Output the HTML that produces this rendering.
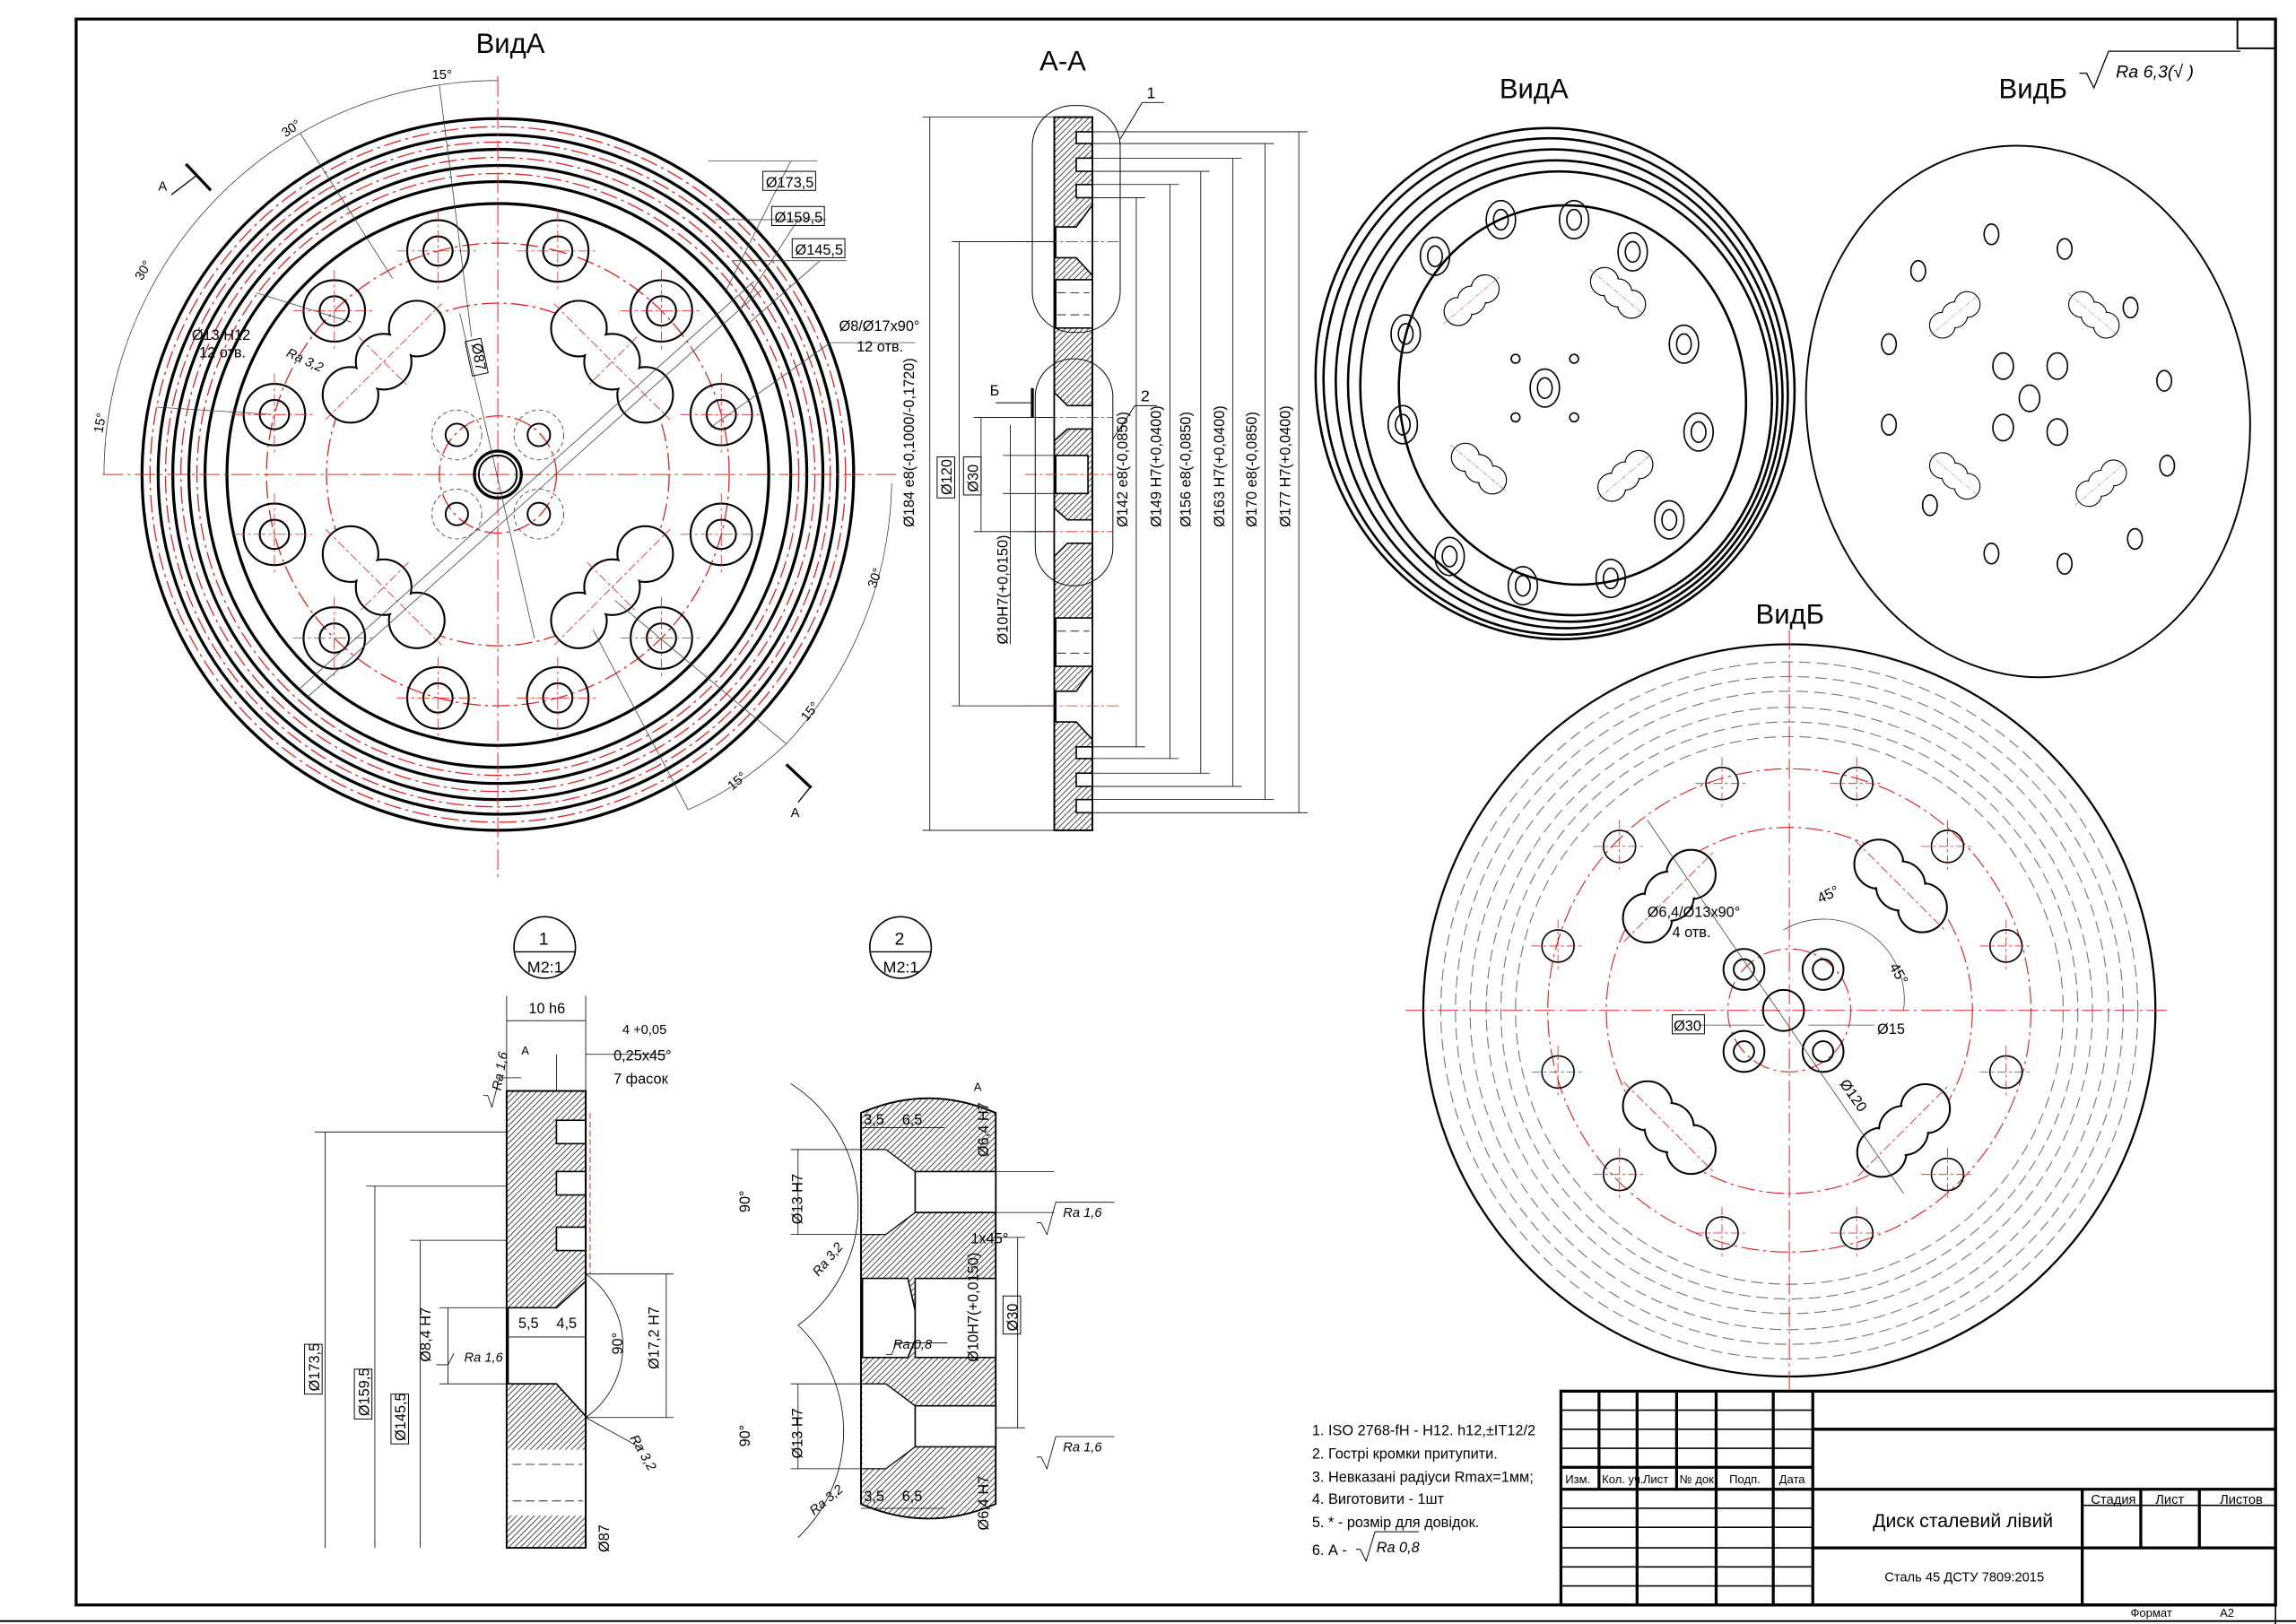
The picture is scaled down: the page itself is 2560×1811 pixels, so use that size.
<!DOCTYPE html>
<html><head><meta charset="utf-8">
<style>
html,body{margin:0;padding:0;background:#fff;}
svg{display:block;}
text{font-family:"Liberation Sans","Noto Sans CJK SC",sans-serif;fill:#000;}
</style></head>
<body>
<svg width="2560" height="1811" viewBox="0 0 1568 1109" preserveAspectRatio="none" xmlns="http://www.w3.org/2000/svg">
<defs>
<pattern id="hat" patternUnits="userSpaceOnUse" width="4" height="4">
<path d="M0 4 L4 0 M-1 1 L1 -1 M3 5 L5 3" stroke="#000" stroke-width="0.45"/>
</pattern>
<g id="hole">
<circle r="21" fill="none" stroke="#000" stroke-width="1.3"/>
<circle r="10" fill="none" stroke="#000" stroke-width="1.3"/>
<line x1="-28" y1="0" x2="28" y2="0" stroke="#d22" stroke-width="0.5" stroke-dasharray="8 2 2 2"/>
<line x1="0" y1="-28" x2="0" y2="28" stroke="#d22" stroke-width="0.5" stroke-dasharray="8 2 2 2"/>
</g>
<g id="clover">
<circle cx="-32" cy="0" r="19" fill="#fff" stroke="#000" stroke-width="1.3"/>
<circle cx="32" cy="0" r="19" fill="#fff" stroke="#000" stroke-width="1.3"/>
<circle cx="0" cy="0" r="19" fill="#fff" stroke="#000" stroke-width="1.3"/>
<circle cx="-32" cy="0" r="18" fill="#fff"/>
<circle cx="32" cy="0" r="18" fill="#fff"/>
<line x1="-56" y1="0" x2="56" y2="0" stroke="#d22" stroke-width="0.5" stroke-dasharray="6 2 2 2"/>
<line x1="0" y1="-24" x2="0" y2="24" stroke="#d22" stroke-width="0.5" stroke-dasharray="6 2 2 2"/>
</g>
<g id="clover2">
<circle cx="-20" cy="0" r="16" fill="#fff" stroke="#000" stroke-width="1.2"/>
<circle cx="20" cy="0" r="16" fill="#fff" stroke="#000" stroke-width="1.2"/>
<circle cx="0" cy="0" r="16" fill="#fff" stroke="#000" stroke-width="1.2"/>
<circle cx="-20" cy="0" r="15" fill="#fff"/>
<circle cx="20" cy="0" r="15" fill="#fff"/>
<line x1="-42" y1="0" x2="42" y2="0" stroke="#d22" stroke-width="0.5" stroke-dasharray="6 2 2 2"/>
</g>
<g id="shole">
<circle r="11" fill="none" stroke="#000" stroke-width="1"/>
<line x1="-18" y1="0" x2="18" y2="0" stroke="#d22" stroke-width="0.5" stroke-dasharray="6 2 2 2"/>
<line x1="0" y1="-18" x2="0" y2="18" stroke="#d22" stroke-width="0.5" stroke-dasharray="6 2 2 2"/>
</g>
<g id="ehole">
<ellipse rx="10" ry="13" fill="none" stroke="#000" stroke-width="1"/>
<ellipse rx="5" ry="7" fill="none" stroke="#000" stroke-width="1"/>
</g>
</defs>

<rect width="1568" height="1109" fill="#fff"/>
<!-- frame -->
<rect x="52" y="13" width="1502" height="1083" fill="none" stroke="#000" stroke-width="2"/>
<rect x="1528" y="13" width="26" height="20" fill="none" stroke="#000" stroke-width="1.2"/>
<line x1="0" y1="1107" x2="1568" y2="1107" stroke="#000" stroke-width="1.2"/>
<line x1="1554" y1="1096" x2="1554" y2="1109" stroke="#000" stroke-width="1"/>
<text x="1455" y="1104" font-size="8">Формат</text>
<text x="1516" y="1104" font-size="8">А2</text>

<!-- Vid A main -->
<text x="325" y="36" font-size="19">ВидА</text>
<g fill="none" stroke="#000" stroke-width="2">
<circle cx="340" cy="324" r="243"/>
<circle cx="340" cy="324" r="232"/>
<circle cx="340" cy="324" r="222"/>
<circle cx="340" cy="324" r="211"/>
<circle cx="340" cy="324" r="200"/>
<circle cx="340" cy="324" r="185"/>
</g>
<g fill="none" stroke="#d22" stroke-width="0.8" stroke-dasharray="12 3 2 3">
<circle cx="340" cy="324" r="237.5"/>
<circle cx="340" cy="324" r="227"/>
<circle cx="340" cy="324" r="216.5"/>
<circle cx="340" cy="324" r="205.5"/>
<circle cx="340" cy="324" r="158"/>
<circle cx="340" cy="324" r="117"/>
<circle cx="340" cy="324" r="40"/>
</g>
<line x1="70" y1="324" x2="612" y2="324" stroke="#d22" stroke-width="0.6" stroke-dasharray="14 3 2 3"/>
<line x1="340" y1="52" x2="340" y2="600" stroke="#d22" stroke-width="0.6" stroke-dasharray="14 3 2 3"/>
<use href="#hole" x="187.4" y="283.1"/><use href="#hole" x="492.6" y="283.1"/>
<use href="#hole" x="228.3" y="212.3"/><use href="#hole" x="451.7" y="212.3"/>
<use href="#hole" x="299.1" y="171.4"/><use href="#hole" x="380.9" y="171.4"/>
<use href="#hole" x="187.4" y="364.9"/><use href="#hole" x="492.6" y="364.9"/>
<use href="#hole" x="228.3" y="435.7"/><use href="#hole" x="451.7" y="435.7"/>
<use href="#hole" x="299.1" y="476.6"/><use href="#hole" x="380.9" y="476.6"/>
<use href="#clover" transform="translate(262,247) rotate(-45)"/>
<use href="#clover" transform="translate(418,247) rotate(45)"/>
<use href="#clover" transform="translate(262,401) rotate(45)"/>
<use href="#clover" transform="translate(418,401) rotate(-45)"/>
<g fill="none" stroke="#000" stroke-width="1.2">
<circle cx="312" cy="297" r="7.7"/><circle cx="368" cy="297" r="7.7"/><circle cx="312" cy="351" r="7.7"/><circle cx="368" cy="351" r="7.7"/>
<circle cx="340" cy="324" r="16" stroke-width="2"/><circle cx="340" cy="324" r="13"/>
</g>
<g fill="none" stroke="#555" stroke-width="0.6" stroke-dasharray="3 2">
<circle cx="312" cy="297" r="17"/><circle cx="368" cy="297" r="17"/><circle cx="312" cy="351" r="17"/><circle cx="368" cy="351" r="17"/>
</g>
<g stroke="#444" stroke-width="0.5" fill="none">
<line x1="205" y1="470" x2="515" y2="192"/><line x1="210" y1="476" x2="520" y2="198"/>
<line x1="240" y1="220" x2="175" y2="200"/>
<line x1="314" y1="214" x2="365" y2="436"/>
<line x1="107" y1="278" x2="185" y2="283"/>
<path d="M 71 324 A 269 269 0 0 1 100 203"/>
<path d="M 100 203 A 269 269 0 0 1 205 91"/>
<path d="M 205 91 A 269 269 0 0 1 300 58"/>
<path d="M 300 58 A 269 269 0 0 1 340 55"/>
<line x1="300" y1="58" x2="322" y2="230"/>
<line x1="205" y1="91" x2="268" y2="190"/>
<path d="M 609 330 A 269 269 0 0 1 537 508"/>
<path d="M 537 508 A 269 269 0 0 1 500 537"/>
<path d="M 500 537 A 269 269 0 0 1 470 553"/>
<line x1="537" y1="508" x2="420" y2="410"/>
<line x1="470" y1="553" x2="405" y2="430"/>
<line x1="484" y1="110" x2="558" y2="110"/><line x1="488" y1="150" x2="564" y2="150"/><line x1="500" y1="178" x2="578" y2="178"/>
<line x1="495" y1="200" x2="540" y2="110"/><line x1="505" y1="212" x2="545" y2="150"/><line x1="510" y1="222" x2="560" y2="178"/>
<line x1="485" y1="292" x2="567" y2="234"/><line x1="567" y1="234" x2="625" y2="234"/>
</g>
<rect x="521" y="117" width="36" height="13" fill="none" stroke="#000" stroke-width="0.6"/>
<text x="523" y="128" font-size="10">Ø173,5</text>
<rect x="527" y="141" width="36" height="13" fill="none" stroke="#000" stroke-width="0.6"/>
<text x="529" y="152" font-size="10">Ø159,5</text>
<rect x="541" y="163" width="36" height="13" fill="none" stroke="#000" stroke-width="0.6"/>
<text x="543" y="174" font-size="10">Ø145,5</text>
<text x="573" y="226" font-size="10">Ø8/Ø17x90°</text>
<text x="585" y="240" font-size="10">12 отв.</text>
<text x="131" y="232" font-size="10">Ø13 H12</text>
<text x="136" y="244" font-size="10">12 отв.</text>
<text x="195" y="243" font-size="9" font-style="italic" transform="rotate(25 195 243)">Ra 3,2</text>
<rect x="320" y="232" width="11" height="24" fill="none" stroke="#000" stroke-width="0.6" transform="rotate(-12 325 244)"/>
<text x="322" y="235" font-size="10" transform="rotate(80 322 235)">Ø87</text>
<text x="295" y="54" font-size="9" fill="#555">15°</text>
<text x="195" y="94" font-size="9" transform="rotate(-35 195 94)">30°</text>
<text x="97" y="192" font-size="9" transform="rotate(-60 97 192)">30°</text>
<text x="70" y="296" font-size="9" transform="rotate(-80 70 296)">15°</text>
<text x="598" y="402" font-size="9" transform="rotate(-70 598 402)">30°</text>
<text x="551" y="493" font-size="9" transform="rotate(-50 551 493)">15°</text>
<text x="500" y="540" font-size="9" transform="rotate(-40 500 540)">15°</text>
<text x="108" y="130" font-size="9">А</text>
<line x1="127" y1="112" x2="144" y2="130" stroke="#000" stroke-width="2"/>
<line x1="117" y1="133" x2="134" y2="120" stroke="#000" stroke-width="0.8"/>
<text x="540" y="558" font-size="9">А</text>
<line x1="537" y1="522" x2="554" y2="538" stroke="#000" stroke-width="2"/>
<line x1="545" y1="548" x2="553" y2="538" stroke="#000" stroke-width="0.8"/>

<!-- Section A-A -->
<text x="710" y="48" font-size="19">А-А</text>
<rect x="720" y="80" width="26" height="487" fill="url(#hat)" stroke="#000" stroke-width="1.2"/>
<g fill="#fff" stroke="#000" stroke-width="1">
<rect x="735" y="90" width="11" height="8"/><rect x="735" y="108" width="11" height="9"/><rect x="735" y="126" width="11" height="9"/>
<rect x="735" y="510" width="11" height="8"/><rect x="735" y="528" width="11" height="9"/><rect x="735" y="546" width="11" height="9"/>
<polygon points="746,140 735,155 721,155 721,176 735,176 746,188"/>
<rect x="721" y="191" width="25" height="33"/>
<polygon points="720,268 729,277 746,277 746,293 729,293 720,301"/>
<rect x="721" y="311" width="22" height="26"/>
<polygon points="720,347 729,355 746,355 746,371 729,371 720,380"/>
<rect x="721" y="422" width="25" height="33"/>
<polygon points="746,457 735,472 721,472 721,493 735,493 746,505"/>
</g>
<g stroke="#000" stroke-width="0.5" stroke-dasharray="6 3">
<line x1="722" y1="200" x2="744" y2="200"/><line x1="722" y1="215" x2="744" y2="215"/>
<line x1="722" y1="431" x2="744" y2="431"/><line x1="722" y1="446" x2="744" y2="446"/>
</g>
<g stroke="#d22" stroke-width="0.5" stroke-dasharray="8 2 2 2">
<line x1="700" y1="165" x2="765" y2="165"/><line x1="700" y1="285" x2="760" y2="285"/>
<line x1="700" y1="324" x2="760" y2="324"/><line x1="700" y1="363" x2="760" y2="363"/>
<line x1="700" y1="482" x2="765" y2="482"/>
</g>
<g stroke="#000" stroke-width="0.6" fill="none">
<rect x="705" y="72" width="60" height="155" rx="28"/>
<rect x="707" y="245" width="53" height="155" rx="26"/>
<line x1="765" y1="95" x2="780" y2="70"/><line x1="780" y1="70" x2="795" y2="70"/>
<line x1="760" y1="300" x2="775" y2="277"/><line x1="775" y1="277" x2="790" y2="277"/>
</g>
<text x="783" y="67" font-size="11">1</text>
<text x="779" y="274" font-size="11">2</text>
<g stroke="#000" stroke-width="0.5">
<line x1="630" y1="80" x2="720" y2="80"/><line x1="630" y1="567" x2="720" y2="567"/><line x1="635" y1="80" x2="635" y2="567"/>
<line x1="650" y1="165" x2="720" y2="165"/><line x1="650" y1="482" x2="720" y2="482"/><line x1="655" y1="165" x2="655" y2="482"/>
<line x1="665" y1="285" x2="720" y2="285"/><line x1="665" y1="363" x2="720" y2="363"/><line x1="670" y1="285" x2="670" y2="363"/>
<line x1="685" y1="311" x2="720" y2="311"/><line x1="685" y1="337" x2="720" y2="337"/><line x1="690" y1="290" x2="690" y2="440"/>
<line x1="746" y1="90" x2="893" y2="90"/><line x1="746" y1="98" x2="870" y2="98"/>
<line x1="746" y1="108" x2="848" y2="108"/><line x1="746" y1="117" x2="826" y2="117"/>
<line x1="746" y1="126" x2="805" y2="126"/><line x1="746" y1="135" x2="782" y2="135"/>
<line x1="746" y1="510" x2="782" y2="510"/><line x1="746" y1="518" x2="805" y2="518"/>
<line x1="746" y1="528" x2="826" y2="528"/><line x1="746" y1="537" x2="848" y2="537"/>
<line x1="746" y1="546" x2="870" y2="546"/><line x1="746" y1="555" x2="893" y2="555"/>
<line x1="776" y1="135" x2="776" y2="510"/><line x1="799" y1="126" x2="799" y2="518"/>
<line x1="820" y1="117" x2="820" y2="528"/><line x1="842" y1="108" x2="842" y2="537"/>
<line x1="864" y1="98" x2="864" y2="546"/><line x1="887" y1="90" x2="887" y2="555"/>
</g>
<text x="624" y="360" font-size="10" transform="rotate(-90 624 360)">Ø184 e8(-0,1000/-0,1720)</text>
<rect x="640" y="312" width="12" height="28" fill="none" stroke="#000" stroke-width="0.6"/>
<text x="650" y="338" font-size="10" transform="rotate(-90 650 338)">Ø120</text>
<rect x="658" y="312" width="12" height="26" fill="none" stroke="#000" stroke-width="0.6"/>
<text x="668" y="336" font-size="10" transform="rotate(-90 668 336)">Ø30</text>
<text x="688" y="440" font-size="10" transform="rotate(-90 688 440)">Ø10H7(+0,0150)</text>
<text x="676" y="270" font-size="10">Б</text>
<line x1="680" y1="275" x2="705" y2="275" stroke="#000" stroke-width="0.6"/>
<line x1="705" y1="265" x2="705" y2="285" stroke="#000" stroke-width="2"/>
<text x="770" y="360" font-size="10" transform="rotate(-90 770 360)">Ø142 e8(-0,0850)</text>
<text x="793" y="360" font-size="10" transform="rotate(-90 793 360)">Ø149 H7(+0,0400)</text>
<text x="813" y="360" font-size="10" transform="rotate(-90 813 360)">Ø156 e8(-0,0850)</text>
<text x="836" y="360" font-size="10" transform="rotate(-90 836 360)">Ø163 H7(+0,0400)</text>
<text x="858" y="360" font-size="10" transform="rotate(-90 858 360)">Ø170 e8(-0,0850)</text>
<text x="881" y="360" font-size="10" transform="rotate(-90 881 360)">Ø177 H7(+0,0400)</text>

<!-- View A iso -->
<text x="1024" y="67" font-size="19">ВидА</text>
<g fill="none" stroke="#000" stroke-width="1.6" transform="rotate(-12 1062 262)">
<ellipse cx="1062" cy="262" rx="163" ry="175"/>
<ellipse cx="1062" cy="264" rx="158" ry="170"/>
<ellipse cx="1064" cy="266" rx="152" ry="164"/>
<ellipse cx="1066" cy="268" rx="146" ry="158"/>
<ellipse cx="1068" cy="270" rx="140" ry="152"/>
<ellipse cx="1072" cy="272" rx="118" ry="130"/>
</g>
<use href="#ehole" x="1025" y="150"/><use href="#ehole" x="1075" y="150"/><use href="#ehole" x="1115" y="172"/><use href="#ehole" x="1150" y="235"/>
<use href="#ehole" x="1160" y="295"/><use href="#ehole" x="1140" y="355"/><use href="#ehole" x="1100" y="395"/><use href="#ehole" x="1040" y="400"/>
<use href="#ehole" x="990" y="380"/><use href="#ehole" x="958" y="290"/><use href="#ehole" x="960" y="228"/><use href="#ehole" x="980" y="175"/>
<use href="#clover2" transform="translate(1005,205) rotate(-40) scale(0.6)"/>
<use href="#clover2" transform="translate(1105,200) rotate(40) scale(0.6)"/>
<use href="#clover2" transform="translate(1010,320) rotate(40) scale(0.6)"/>
<use href="#clover2" transform="translate(1110,325) rotate(-40) scale(0.6)"/>
<use href="#ehole" x="1055" y="265"/>
<g fill="none" stroke="#000"><circle cx="1035" cy="245" r="3"/><circle cx="1075" cy="245" r="3"/><circle cx="1035" cy="285" r="3"/><circle cx="1075" cy="285" r="3"/></g>

<!-- View B iso -->
<text x="1365" y="67" font-size="19">ВидБ</text>
<path d="M1420 50 l5 0 l5 10 l10 -25 l90 0" fill="none" stroke="#000" stroke-width="0.8"/>
<text x="1445" y="53" font-size="12" font-style="italic">Ra 6,3(√ )</text>
<ellipse cx="1385" cy="281" rx="151" ry="182" transform="rotate(-8 1385 281)" fill="none" stroke="#000" stroke-width="1.2"/>
<g fill="none" stroke="#000" stroke-width="1">
<ellipse cx="1310" cy="185" rx="5" ry="7"/><ellipse cx="1360" cy="160" rx="5" ry="7"/><ellipse cx="1410" cy="170" rx="5" ry="7"/><ellipse cx="1455" cy="210" rx="5" ry="7"/>
<ellipse cx="1478" cy="260" rx="5" ry="7"/><ellipse cx="1480" cy="318" rx="5" ry="7"/><ellipse cx="1458" cy="368" rx="5" ry="7"/><ellipse cx="1410" cy="385" rx="5" ry="7"/>
<ellipse cx="1360" cy="378" rx="5" ry="7"/><ellipse cx="1318" cy="345" rx="5" ry="7"/><ellipse cx="1290" cy="290" rx="5" ry="7"/><ellipse cx="1290" cy="235" rx="5" ry="7"/>
<ellipse cx="1368" cy="250" rx="7" ry="9"/><ellipse cx="1405" cy="250" rx="7" ry="9"/><ellipse cx="1368" cy="292" rx="7" ry="9"/><ellipse cx="1405" cy="295" rx="7" ry="9"/><ellipse cx="1386" cy="272" rx="7" ry="9"/>
</g>
<use href="#clover2" transform="translate(1335,215) rotate(-40) scale(0.55)"/>
<use href="#clover2" transform="translate(1430,215) rotate(40) scale(0.55)"/>
<use href="#clover2" transform="translate(1335,325) rotate(40) scale(0.55)"/>
<use href="#clover2" transform="translate(1435,330) rotate(-40) scale(0.55)"/>

<!-- View B front -->
<text x="1199" y="426" font-size="19">ВидБ</text>
<circle cx="1222" cy="690" r="250" fill="none" stroke="#000" stroke-width="1.4"/>
<g fill="none" stroke="#777" stroke-width="0.7" stroke-dasharray="8 4">
<circle cx="1222" cy="690" r="238"/><circle cx="1222" cy="690" r="228"/><circle cx="1222" cy="690" r="218"/>
<circle cx="1222" cy="690" r="207"/><circle cx="1222" cy="690" r="197"/><circle cx="1222" cy="690" r="187"/>
</g>
<g fill="none" stroke="#d22" stroke-width="0.7" stroke-dasharray="12 3 2 3">
<circle cx="1222" cy="690" r="165"/><circle cx="1222" cy="690" r="125"/><circle cx="1222" cy="690" r="42"/>
</g>
<line x1="960" y1="690" x2="1480" y2="690" stroke="#d22" stroke-width="0.6" stroke-dasharray="14 3 2 3"/>
<line x1="1222" y1="430" x2="1222" y2="950" stroke="#d22" stroke-width="0.6" stroke-dasharray="14 3 2 3"/>
<use href="#shole" x="1106" y="578"/><use href="#shole" x="1176" y="535"/><use href="#shole" x="1268" y="535"/><use href="#shole" x="1330" y="578"/>
<use href="#shole" x="1370" y="646"/><use href="#shole" x="1370" y="732"/><use href="#shole" x="1330" y="802"/><use href="#shole" x="1268" y="842"/>
<use href="#shole" x="1176" y="842"/><use href="#shole" x="1106" y="802"/><use href="#shole" x="1064" y="732"/><use href="#shole" x="1064" y="646"/>
<use href="#clover2" transform="translate(1140,612) rotate(-45) scale(1.05)"/>
<use href="#clover2" transform="translate(1298,605) rotate(45) scale(1.05)"/>
<use href="#clover2" transform="translate(1140,770) rotate(45) scale(1.05)"/>
<use href="#clover2" transform="translate(1300,772) rotate(-45) scale(1.05)"/>
<g fill="none" stroke="#000" stroke-width="1.2">
<circle cx="1191" cy="662" r="14"/><circle cx="1191" cy="662" r="7"/>
<circle cx="1245" cy="662" r="14"/><circle cx="1245" cy="662" r="7"/>
<circle cx="1191" cy="718" r="14"/><circle cx="1191" cy="718" r="7"/>
<circle cx="1245" cy="718" r="14"/><circle cx="1245" cy="718" r="7"/>
<circle cx="1218" cy="690" r="14"/>
</g>
<g stroke="#444" stroke-width="0.5" fill="none">
<line x1="1125" y1="560" x2="1300" y2="815"/>
<path d="M1218 635 A 55 55 0 0 1 1300 690"/>
<line x1="1160" y1="700" x2="1205" y2="700"/>
<line x1="1235" y1="700" x2="1280" y2="700"/>
</g>
<text x="1125" y="626" font-size="10">Ø6,4/Ø13x90°</text>
<text x="1142" y="640" font-size="10">4 отв.</text>
<rect x="1142" y="693" width="22" height="13" fill="none" stroke="#000" stroke-width="0.6"/>
<text x="1143" y="704" font-size="10">Ø30</text>
<text x="1282" y="706" font-size="10">Ø15</text>
<text x="1243" y="617" font-size="10" transform="rotate(-25 1243 617)">45°</text>
<text x="1290" y="660" font-size="10" transform="rotate(60 1290 660)">45°</text>
<text x="1256" y="740" font-size="10" transform="rotate(55 1256 740)">Ø120</text>

<!-- detail circles -->
<circle cx="372" cy="647" r="21" fill="none" stroke="#000" stroke-width="1"/>
<line x1="351" y1="650" x2="393" y2="650" stroke="#000" stroke-width="0.8"/>
<text x="368" y="645" font-size="12">1</text><text x="360" y="664" font-size="11">M2:1</text>
<circle cx="615" cy="647" r="21" fill="none" stroke="#000" stroke-width="1"/>
<line x1="594" y1="650" x2="636" y2="650" stroke="#000" stroke-width="0.8"/>
<text x="611" y="645" font-size="12">2</text><text x="603" y="664" font-size="11">M2:1</text>

<!-- Detail 1 -->
<rect x="346" y="745" width="54" height="312" fill="url(#hat)" stroke="#000" stroke-width="1.2"/>
<g fill="#fff" stroke="#000" stroke-width="1">
<rect x="380" y="765" width="20" height="16"/><rect x="380" y="800" width="20" height="16"/><rect x="380" y="838" width="20" height="16"/>
<polygon points="347,893 380,893 400,875 400,967 380,945 347,945"/>
<rect x="347" y="990" width="53" height="45" stroke="none"/>
</g>
<g stroke="#000" stroke-width="0.5" stroke-dasharray="6 3"><line x1="350" y1="1000" x2="398" y2="1000"/><line x1="350" y1="1025" x2="398" y2="1025"/></g>
<line x1="400" y1="745" x2="400" y2="1057" stroke="#000" stroke-width="1.2"/>
<line x1="403" y1="760" x2="403" y2="870" stroke="#d22" stroke-width="0.6" stroke-dasharray="4 2"/>
<g stroke="#000" stroke-width="0.5" fill="none">
<line x1="346" y1="680" x2="346" y2="745"/><line x1="400" y1="680" x2="400" y2="745"/><line x1="346" y1="697" x2="400" y2="697"/>
<line x1="400" y1="720" x2="455" y2="720"/><line x1="380" y1="720" x2="380" y2="745"/>
<line x1="215" y1="773" x2="346" y2="773"/><line x1="222" y1="773" x2="222" y2="1057"/>
<line x1="250" y1="810" x2="346" y2="810"/><line x1="256" y1="810" x2="256" y2="1057"/>
<line x1="280" y1="847" x2="346" y2="847"/><line x1="287" y1="847" x2="287" y2="1057"/>
<line x1="300" y1="893" x2="346" y2="893"/><line x1="306" y1="893" x2="306" y2="945"/><line x1="300" y1="945" x2="346" y2="945"/>
<line x1="400" y1="870" x2="460" y2="870"/><line x1="400" y1="968" x2="460" y2="968"/><line x1="455" y1="870" x2="455" y2="968"/>
<path d="M 400 870 A 60 60 0 0 1 400 968"/>
<line x1="346" y1="913" x2="400" y2="913"/>
<path d="M330 748 l3 0 l3 8 l5 -20 l15 0"/>
<path d="M298 932 l8 0 l4 -8"/>
<line x1="400" y1="968" x2="440" y2="990"/>
</g>
<text x="361" y="692" font-size="10">10 h6</text>
<text x="425" y="706" font-size="9">4 +0,05</text>
<text x="419" y="724" font-size="10">0,25x45°</text>
<text x="419" y="740" font-size="10">7 фасок</text>
<text x="356" y="720" font-size="8">А</text>
<text x="342" y="745" font-size="9" font-style="italic" transform="rotate(-80 342 745)">Ra 1,6</text>
<text x="354" y="907" font-size="10">5,5</text><text x="380" y="907" font-size="10">4,5</text>
<text x="317" y="930" font-size="9" font-style="italic">Ra 1,6</text>
<text x="294" y="930" font-size="10" transform="rotate(-90 294 930)">Ø8,4 H7</text>
<text x="450" y="935" font-size="10" transform="rotate(-90 450 935)">Ø17,2 H7</text>
<text x="425" y="925" font-size="10" transform="rotate(-90 425 925)">90°</text>
<text x="430" y="982" font-size="9" font-style="italic" transform="rotate(60 430 982)">Ra 3,2</text>
<rect x="208" y="918" width="12" height="34" fill="none" stroke="#000" stroke-width="0.6"/>
<text x="218" y="950" font-size="10" transform="rotate(-90 218 950)">Ø173,5</text>
<rect x="242" y="935" width="12" height="34" fill="none" stroke="#000" stroke-width="0.6"/>
<text x="252" y="967" font-size="10" transform="rotate(-90 252 967)">Ø159,5</text>
<rect x="267" y="952" width="12" height="34" fill="none" stroke="#000" stroke-width="0.6"/>
<text x="277" y="984" font-size="10" transform="rotate(-90 277 984)">Ø145,5</text>
<text x="416" y="1060" font-size="10" transform="rotate(-90 416 1060)">Ø87</text>

<!-- Detail 2 -->
<path d="M588 760 Q634 740 680 760 L680 1027 Q634 1047 588 1027 Z" fill="url(#hat)" stroke="#000" stroke-width="1.2"/>
<g fill="#fff" stroke="#000" stroke-width="1">
<polygon points="589,785 605,785 625,800 625,828 605,843 589,843" stroke="none"/>
<polygon points="625,800 680,800 680,828 625,828"/>
<polygon points="589,873 620,873 625,895 625,915 620,927 589,927"/>
<rect x="625" y="873" width="55" height="54"/>
<polygon points="589,945 605,945 625,960 625,988 605,1003 589,1003" stroke="none"/>
<polygon points="625,960 680,960 680,988 625,988"/>
</g>
<g stroke="#000" stroke-width="0.8" fill="none">
<line x1="589" y1="785" x2="605" y2="785"/><line x1="605" y1="785" x2="625" y2="800"/><line x1="605" y1="843" x2="625" y2="828"/><line x1="589" y1="843" x2="605" y2="843"/>
<line x1="589" y1="945" x2="605" y2="945"/><line x1="605" y1="945" x2="625" y2="960"/><line x1="605" y1="1003" x2="625" y2="988"/><line x1="589" y1="1003" x2="605" y2="1003"/>
</g>
<g stroke="#000" stroke-width="0.5" fill="none">
<line x1="540" y1="785" x2="589" y2="785"/><line x1="540" y1="843" x2="589" y2="843"/><line x1="545" y1="785" x2="545" y2="843"/>
<line x1="540" y1="945" x2="589" y2="945"/><line x1="540" y1="1003" x2="589" y2="1003"/><line x1="545" y1="945" x2="545" y2="1003"/>
<line x1="680" y1="800" x2="720" y2="800"/><line x1="680" y1="828" x2="720" y2="828"/>
<line x1="680" y1="845" x2="700" y2="845"/><line x1="680" y1="975" x2="700" y2="975"/><line x1="695" y1="845" x2="695" y2="975"/>
<line x1="588" y1="760" x2="588" y2="770"/><line x1="588" y1="770" x2="645" y2="770"/>
<line x1="588" y1="1030" x2="645" y2="1030"/>
<path d="M 540 740 A 100 100 0 0 1 545 905"/>
<path d="M 545 905 A 100 100 0 0 1 545 1050"/>
<path d="M708 835 l3 0 l4 8 l6 -22 l40 0"/>
<path d="M708 995 l3 0 l4 8 l6 -22 l40 0"/>
<path d="M605 925 l4 0 l3 -8 l35 0"/>
</g>
<text x="590" y="768" font-size="10">3,5</text><text x="616" y="768" font-size="10">6,5</text>
<text x="590" y="1025" font-size="10">3,5</text><text x="616" y="1025" font-size="10">6,5</text>
<text x="665" y="745" font-size="8">А</text>
<text x="675" y="790" font-size="10" transform="rotate(-90 675 790)">Ø6,4 H7</text>
<text x="675" y="1045" font-size="10" transform="rotate(-90 675 1045)">Ø6,4 H7</text>
<text x="548" y="836" font-size="10" transform="rotate(-90 548 836)">Ø13 H7</text>
<text x="548" y="996" font-size="10" transform="rotate(-90 548 996)">Ø13 H7</text>
<text x="512" y="828" font-size="10" transform="rotate(-90 512 828)">90°</text>
<text x="512" y="988" font-size="10" transform="rotate(-90 512 988)">90°</text>
<text x="663" y="849" font-size="10">1x45°</text>
<text x="726" y="831" font-size="9" font-style="italic">Ra 1,6</text>
<text x="726" y="991" font-size="9" font-style="italic">Ra 1,6</text>
<text x="610" y="921" font-size="9" font-style="italic">Ra 0,8</text>
<text x="559" y="872" font-size="9" font-style="italic" transform="rotate(-50 559 872)">Ra 3,2</text>
<text x="556" y="1035" font-size="9" font-style="italic" transform="rotate(-40 556 1035)">Ra 3,2</text>
<text x="668" y="930" font-size="10" transform="rotate(-90 668 930)">Ø10H7(+0,0150)</text>
<rect x="685" y="885" width="12" height="26" fill="none" stroke="#000" stroke-width="0.6"/>
<text x="695" y="909" font-size="10" transform="rotate(-90 695 909)">Ø30</text>

<!-- notes -->
<text x="896" y="980" font-size="10">1. ISO 2768-fH -  H12. h12,±IT12/2</text>
<text x="896" y="996" font-size="10">2. Гострі кромки притупити.</text>
<text x="896" y="1012" font-size="10">3. Невказані радіуси Rmax=1мм;</text>
<text x="896" y="1027" font-size="10">4. Виготовити - 1шт</text>
<text x="896" y="1043" font-size="10">5. * - розмір для довідок.</text>
<text x="896" y="1062" font-size="10">6. А -</text>
<path d="M926 1058 l3 0 l4 8 l6 -20 l30 0" fill="none" stroke="#000" stroke-width="0.6"/>
<text x="940" y="1060" font-size="10" font-style="italic">Ra 0,8</text>

<!-- title block -->
<g stroke="#000" fill="none">
<rect x="1066" y="950" width="488" height="146" stroke-width="2"/>
<line x1="1238" y1="950" x2="1238" y2="1096" stroke-width="2"/>
<g stroke-width="2">
<line x1="1092" y1="950" x2="1092" y2="1017"/><line x1="1118" y1="950" x2="1118" y2="1096"/>
<line x1="1145" y1="950" x2="1145" y2="1017"/><line x1="1172" y1="950" x2="1172" y2="1096"/>
<line x1="1211" y1="950" x2="1211" y2="1096"/>
<line x1="1066" y1="1002" x2="1238" y2="1002"/><line x1="1066" y1="1017" x2="1554" y2="1017"/>
<line x1="1238" y1="976" x2="1554" y2="976"/>
<line x1="1238" y1="1057" x2="1554" y2="1057"/>
<line x1="1422" y1="1017" x2="1422" y2="1096"/>
<line x1="1462" y1="1017" x2="1462" y2="1057"/><line x1="1502" y1="1017" x2="1502" y2="1057"/>
</g>
<g stroke-width="1">
<line x1="1066" y1="963" x2="1238" y2="963"/><line x1="1066" y1="976" x2="1238" y2="976"/><line x1="1066" y1="989" x2="1238" y2="989"/>
<line x1="1066" y1="1030" x2="1238" y2="1030"/><line x1="1066" y1="1043" x2="1238" y2="1043"/><line x1="1066" y1="1057" x2="1238" y2="1057"/>
<line x1="1066" y1="1070" x2="1238" y2="1070"/><line x1="1066" y1="1083" x2="1238" y2="1083"/>
<line x1="1422" y1="1028" x2="1554" y2="1028"/>
</g>
</g>
<text x="1069" y="1013" font-size="8">Изм.</text><text x="1094" y="1013" font-size="8">Кол. уч.</text>
<text x="1122" y="1013" font-size="8">Лист</text><text x="1147" y="1013" font-size="8">№ док.</text>
<text x="1181" y="1013" font-size="8">Подп.</text><text x="1215" y="1013" font-size="8">Дата</text>
<text x="1279" y="1043" font-size="13">Диск сталевий лівий</text>
<text x="1287" y="1080" font-size="9">Сталь 45 ДСТУ 7809:2015</text>
<text x="1428" y="1027" font-size="9">Стадия</text><text x="1472" y="1027" font-size="9">Лист</text><text x="1516" y="1027" font-size="9">Листов</text>
</svg>
</body></html>
